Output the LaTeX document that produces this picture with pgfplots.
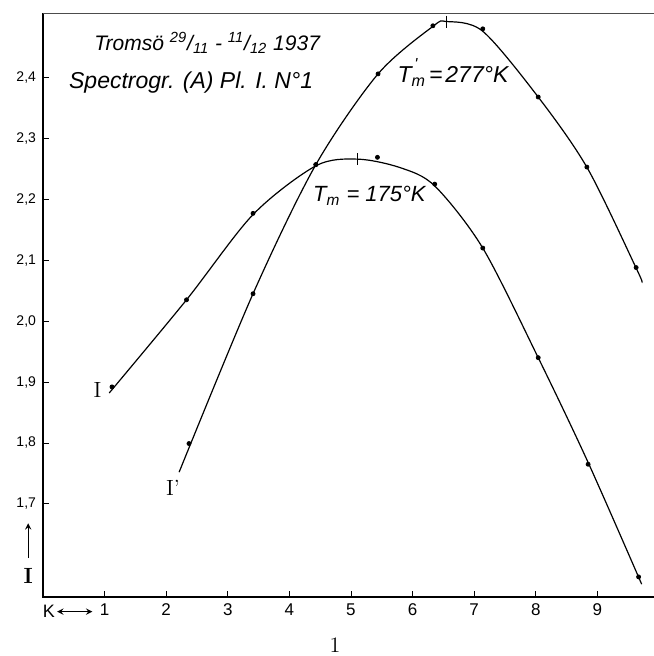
\documentclass[border=0pt]{standalone}
\usepackage{fontspec}
\usepackage{pgfplots}
\pgfplotsset{compat=1.18}
\newfontfamily\lab{Liberation Sans}

\begin{document}
\begin{tikzpicture}
\begin{axis}[
    name=ax, at={(0,0)}, anchor=south west,
    scale only axis, width=305.5pt, height=292pt,
    xmin=0, xmax=9.92, ymin=1.547, ymax=2.506,
    axis line style={draw=none},
    clip=false,
    xtick={1,2,3,4,5,6,7,8,9},
    ytick={1.7,1.8,1.9,2.0,2.1,2.2,2.3,2.4},
    xtick pos=left, ytick pos=left,
    tick align=inside, major tick length=3pt,
    tick style={black, line width=0.4pt},
    xticklabel style={font=\lab\fontsize{8.5}{9}\selectfont,
        /pgf/number format/assume math mode=true},
    yticklabel style={font=\lab\fontsize{7}{8}\selectfont,
        /pgf/number format/.cd, use comma, fixed, fixed zerofill,
        precision=1, assume math mode=true},
]
% frame: left and bottom heavy, top thin, no right edge
\draw[line width=0.9pt] (rel axis cs:0,1) -- (rel axis cs:0,0) -- (rel axis cs:1,0);
\draw[line width=0.4pt, black!70] (rel axis cs:0,1) -- (rel axis cs:1,1);

% curve I
\addplot[black, line width=0.6pt, smooth, tension=0.5] coordinates {
    (1.075,1.882) (2.33,2.035) (3.41,2.175) (4.43,2.255)
    (5.11,2.266) (5.80,2.252) (6.36,2.222) (7.14,2.120) (8.04,1.940)
    (8.85,1.768) (9.72,1.568)};
\addplot[only marks, mark=*, mark size=1pt, black] coordinates {
    (1.12,1.892) (2.33,2.035) (3.41,2.177) (4.43,2.257) (5.43,2.269)
    (6.36,2.225) (7.14,2.120) (8.04,1.940) (8.85,1.765) (9.67,1.580)};

% curve I'
\addplot[black, line width=0.6pt, smooth, tension=0.5] coordinates {
    (2.21,1.752) (3.41,2.045) (4.43,2.257)
    (5.44,2.406) (6.33,2.484) (6.55,2.492) (7.14,2.476) (8.04,2.368)
    (8.84,2.251) (9.64,2.085) (9.72,2.065)};
\addplot[only marks, mark=*, mark size=1pt, black] coordinates {
    (2.37,1.799) (3.41,2.045) (4.43,2.257) (5.44,2.406) (6.33,2.485)
    (7.14,2.480) (8.04,2.368) (8.83,2.253) (9.63,2.088)};

% maxima
\addplot[only marks, mark=|, mark size=3pt, black,
    mark options={line width=0.5pt}] coordinates {(5.11,2.266) (6.55,2.492)};

% texts
\node[anchor=west, font=\lab\itshape\fontsize{10.5}{12}\selectfont]
    at (axis cs:0.72,2.457)
    {Tromsö \textsuperscript{29}/\textsubscript{11} - \textsuperscript{11}/\textsubscript{12} 1937};
\node[anchor=west, font=\lab\itshape\fontsize{11.5}{13}\selectfont]
    at (axis cs:0.31,2.391) {Spectrogr. (A) Pl. I. N°1};
\node[anchor=west, font=\lab\itshape\fontsize{11.5}{13}\selectfont, inner sep=0pt]
    at (axis cs:5.75,2.409)
    {T\makebox[0pt][l]{\raisebox{1.1ex}{\fontsize{8}{8}\selectfont\,'}}\textsubscript{m}\kern1.5pt=\kern1.5pt277°K};
\node[anchor=west, font=\lab\itshape\fontsize{11}{13}\selectfont, inner sep=0pt]
    at (axis cs:4.38,2.206) {T\textsubscript{m} = 175°K};
\node[font=\fontsize{11}{13}\selectfont] at (axis cs:0.885,1.887) {I};
\node[font=\fontsize{11}{13}\selectfont] at (axis cs:2.11,1.726) {I'};

% axis descriptions
\node[anchor=west, font=\lab\fontsize{9}{10}\selectfont, inner sep=0pt]
    at (axis cs:-0.01,1.523) {K};
\draw[<->, >=stealth, line width=0.4pt] (axis cs:0.23,1.523) -- (axis cs:0.80,1.523);
\draw[->, >=stealth, line width=0.4pt] (axis cs:-0.24,1.611) -- (axis cs:-0.24,1.668);
\node[font=\bfseries\fontsize{11}{13}\selectfont] at (axis cs:-0.24,1.582) {I};
\end{axis}
\node[font=\fontsize{11}{13}\selectfont] at ([xshift=146pt,yshift=-24pt]ax.south west) {1};
\pgfresetboundingbox
\path[use as bounding box] ([xshift=-21.5pt,yshift=-29.5pt]ax.south west)
    rectangle ([yshift=6.5pt]ax.north east);
\end{tikzpicture}
\end{document}
